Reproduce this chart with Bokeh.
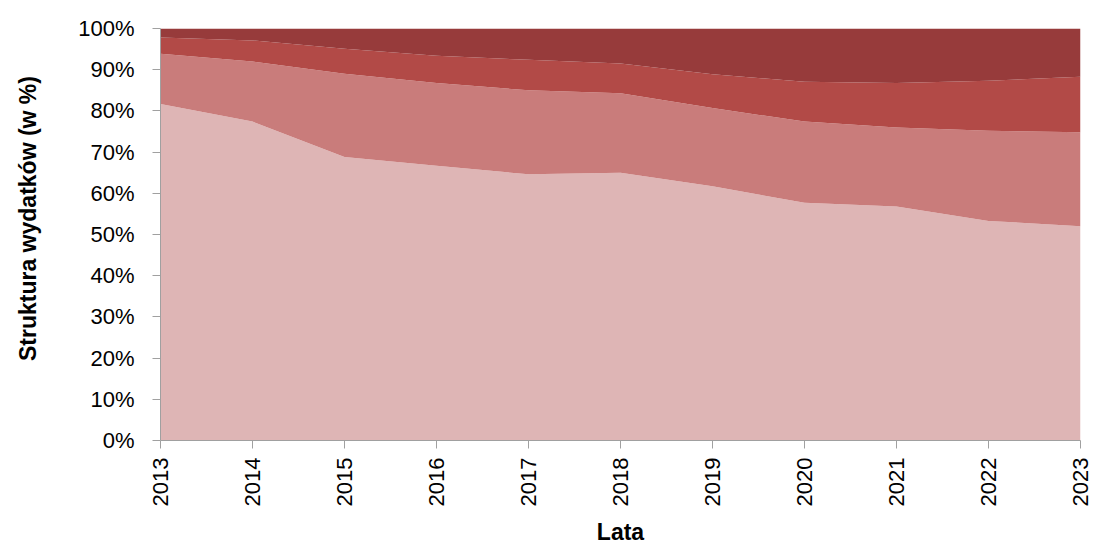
import math
from bokeh.plotting import figure
from bokeh.models import ColumnDataSource, FixedTicker, PrintfTickFormatter, Range1d
from bokeh.embed import file_html
from bokeh.resources import INLINE

years = [2013, 2014, 2015, 2016, 2017, 2018, 2019, 2020, 2021, 2022, 2023]
s1 = [81.7, 77.4, 68.8, 66.7, 64.6, 65.0, 61.7, 57.7, 56.8, 53.3, 52.0]
s2 = [12.2, 14.6, 20.2, 20.1, 20.4, 19.3, 19.0, 19.7, 19.2, 21.9, 22.8]
s3 = [3.9, 5.1, 6.1, 6.6, 7.4, 7.2, 8.2, 9.7, 10.8, 12.1, 13.5]
s4 = [2.2, 2.9, 4.9, 6.6, 7.6, 8.5, 11.1, 12.9, 13.2, 12.7, 11.7]
y_ticks = [0, 10, 20, 30, 40, 50, 60, 70, 80, 90, 100]
colors = ["#DEB5B5", "#C97C7B", "#B24A47", "#973B3B"]

src = ColumnDataSource(dict(x=years, s1=s1, s2=s2, s3=s3, s4=s4))

p = figure(width=1094, height=548, output_backend="svg", toolbar_location=None,
           x_range=Range1d(2013, 2023), y_range=Range1d(0, 100),
           min_border_left=160, min_border_right=14, min_border_top=28, min_border_bottom=108)
p.varea_stack(["s1", "s2", "s3", "s4"], x="x", color=colors, source=src)

p.outline_line_color = None
p.xgrid.visible = False
p.ygrid.visible = False
p.background_fill_color = "white"

for ax in (p.xaxis[0], p.yaxis[0]):
    ax.axis_line_color = "#A0A0A0"
    ax.major_tick_line_color = "#A0A0A0"
    ax.major_tick_out = 8
    ax.major_tick_in = 0
    ax.minor_tick_line_color = None
    ax.major_label_text_font = "Liberation Sans"
    ax.major_label_text_font_size = "22px"
    ax.major_label_text_color = "black"
    ax.axis_label_text_font = "Liberation Sans"
    ax.axis_label_text_font_style = "bold"
    ax.axis_label_text_font_size = "23px"
    ax.axis_label_text_color = "black"

p.xaxis[0].ticker = FixedTicker(ticks=years)
p.xaxis[0].major_label_orientation = math.pi / 2
p.xaxis[0].major_label_standoff = 9
p.xaxis[0].axis_label = "Lata"
p.xaxis[0].axis_label_standoff = 10

p.yaxis[0].ticker = FixedTicker(ticks=y_ticks)
p.yaxis[0].formatter = PrintfTickFormatter(format="%d%%")
p.yaxis[0].major_label_standoff = 18
p.yaxis[0].axis_label = "\u00a0\u00a0\u00a0\u00a0\u00a0Struktura wydatków (w %)"
p.yaxis[0].axis_label_standoff = 34

open("out.html", "w").write(file_html(p, INLINE))
